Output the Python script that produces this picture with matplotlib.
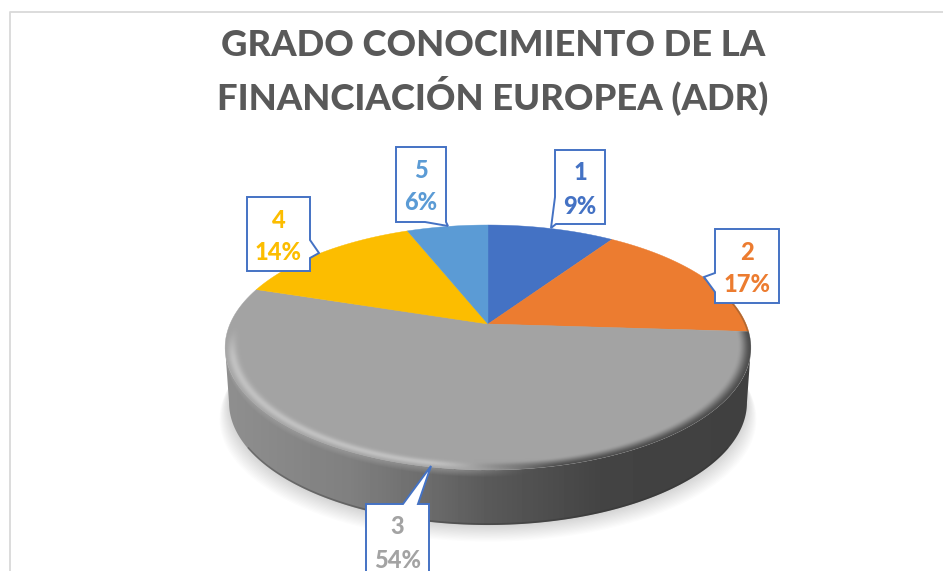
import numpy as np
import matplotlib
matplotlib.use("Agg")
import matplotlib.pyplot as plt
from matplotlib.patches import Polygon

labels = ["1", "2", "3", "4", "5"]
values = [9.4, 16.6, 54, 14, 6]
colors = ["#4472C4", "#EC7C30", "#A3A3A3", "#FCBD00", "#5B9BD5"]
title = "GRADO CONOCIMIENTO DE LA\nFINANCIACIÓN EUROPEA (ADR)"

# layout in pixels
CX, CY = 488, 324
RX, RY, PERSP = 258, 118, 0.192
DEPTH = 55
BLUE = "#4472C4"
side_x = [225, 350, 430, 488, 600, 750]
side_grey = [0.56, 0.50, 0.42, 0.35, 0.265, 0.25]


def project(theta, r=1.0):
    # disc to screen, the far side of the pie is squeezed a bit
    u = r * np.sin(theta)
    v = r * np.cos(theta)
    d = 1 + PERSP * v
    return CX + RX * u / d, CY - RY * v / d


def unproject(x, y):
    xp = (x - CX) / RX
    yp = (CY - y) / RY
    v = yp / (1 - PERSP * yp)
    d = 1 + PERSP * v
    u = xp * d
    return np.hypot(u, v), np.arctan2(u, v) % (2 * np.pi)


def smooth(a, b, x):
    t = np.clip((x - a) / (b - a), 0, 1)
    return t * t * (3 - 2 * t)


def bottom_rim(theta, grow=0.985, extra=0):
    x, y = project(theta)
    return CX + (x - CX) * grow, y + DEPTH + extra


fig = plt.figure(figsize=(9.43, 5.71), dpi=100)
ax = fig.add_axes([0, 0, 1, 1])
ax.axis("off")

# soft shadow under the pie
t_all = np.linspace(0, 2 * np.pi, 400)
for i in range(14):
    bx, by = bottom_rim(t_all, 0.985 + i * 0.0028, 1 + i * 1.2)
    ax.add_patch(Polygon(np.c_[bx, by], fc="k", ec="none", alpha=0.012, zorder=1))

# side wall with horizontal gradient, from widest point to widest point
t_widest = np.arccos(-PERSP)
t_front = np.linspace(t_widest, 2 * np.pi - t_widest, 300)
tx, ty = project(t_front)
bx, by = bottom_rim(t_front)
side = Polygon(np.r_[np.c_[tx, ty], np.c_[bx, by][::-1]], fc="none", ec="none")
ax.add_patch(side)
xs = np.arange(220, 756)
grad = np.interp(xs, side_x, side_grey)[None, :]
im = ax.imshow(grad, cmap="gray", vmin=0, vmax=1, aspect="auto",
               extent=(220, 756, 540, 300), zorder=2)
im.set_clip_path(side)

# darker line along the bottom edge of the wall
ax.plot(bx[40:260], by[40:260] - 1, color="#303030", lw=1.2, alpha=0.35, zorder=3)

# slices
total = sum(values)
edges = 2 * np.pi * np.cumsum([0] + values) / total
wedges = []
for a, b, c in zip(edges[:-1], edges[1:], colors):
    t = np.linspace(a, b, 120)
    x, y = project(t)
    pts = np.r_[[[CX, CY]], np.c_[x, y]]
    wedges.append(ax.add_patch(Polygon(pts, fc=c, ec=c, lw=0.3, zorder=4)))

# bevel on the rim of the big slice, light on the left, dark on the right
gx, gy = np.meshgrid(np.arange(220, 756, 0.5), np.arange(300, 540, 0.5))
rc, tc = unproject(gx, gy)
dark_part = 1 - smooth(-0.25, 0.2, -np.sin(tc))
fade_in = 1 - smooth(-0.3, 0.0, np.cos(tc))
w_light = np.exp(-((rc - 0.975) / 0.017) ** 2) * fade_in
w_dark = smooth(0.95, 1.0, rc)
light_c, dark_c = 0.76, 0.30
grey = (1 - dark_part) * light_c + dark_part * dark_c
alpha = (1 - dark_part) * w_light + dark_part * w_dark
rgba = np.dstack([grey, grey, grey, np.clip(alpha, 0, 1)])
bevel = ax.imshow(rgba, aspect="auto", extent=(220, 756, 540, 300), zorder=5)
bevel.set_clip_path(wedges[2])

# the light band runs a few pixels down the wall
rim_y = np.interp(gx, tx[::-1] if tx[0] > tx[-1] else tx, ty[::-1] if tx[0] > tx[-1] else ty)
k = gy - rim_y
band = np.clip(1 - k / 7, 0, 1) * (k >= 0) * 0.55
band = band * smooth(-0.2, 0.15, (CX - gx) / RX) * smooth(0.0, 0.25, (CX - gx) / RX + 1.0)
band_rgba = np.dstack([np.full_like(band, 0.66)] * 3 + [band])
wall_light = ax.imshow(band_rgba, aspect="auto", extent=(220, 756, 540, 300), zorder=3)
wall_light.set_clip_path(side)

# brown edge on the orange slice
t_o = np.linspace(edges[1] + 0.55, edges[2], 60)
ox, oy = project(t_o, 0.997)
ax.plot(ox, oy, color="#8a5a30", lw=1.2, alpha=0.6, zorder=5)

# callouts: box left, right, top, bottom and the tail points
callouts = [
    (555, 605, 150, 224, [(555, 197), (551, 228), (556, 224)]),
    (715, 779, 229, 303, [(715, 292), (704, 277), (715, 273)]),
    (366, 429, 504, 600, [(403, 504), (431, 466), (418, 504)]),
    (247, 310, 197, 271, [(310, 240), (319, 253), (310, 258)]),
    (396, 446, 147, 222, [(446, 222), (448, 226), (425, 222)]),
]
sides = ["left", "left", "top", "right", "bottom"]
for (l, r, t, b, tail), where in zip(callouts, sides):
    if where == "left":
        pts = [(l, t), (r, t), (r, b), (l, b), tail[0], tail[1], tail[2]]
        if tail[0][1] < tail[2][1]:
            pts = [(l, t), (r, t), (r, b), tail[2], tail[1], tail[0]]
    elif where == "right":
        pts = [(l, t), (r, t), tail[0], tail[1], tail[2], (r, b), (l, b)]
    elif where == "top":
        pts = [(l, t), tail[0], tail[1], tail[2], (r, t), (r, b), (l, b)]
    else:
        pts = [(l, t), (r, t), (r, b), tail[0], tail[1], tail[2], (l, b)]
    ax.add_patch(Polygon(pts, fc="white", ec=BLUE, lw=1.4, joinstyle="miter", zorder=6))

for (l, r, t, b, tail), lab, val, c in zip(callouts, labels, values, colors):
    xc = (l + r) / 2
    ytop = t + 23
    ax.text(xc, ytop, lab, color=c, fontsize=17, family="Lato", weight=900,
            ha="center", va="center", zorder=7)
    ax.text(xc, ytop + 33, f"{val:.0f}%", color=c, fontsize=17, family="Lato", weight=900,
            ha="center", va="center", zorder=7)

ax.text(493, 72, title, color="#595959", fontsize=26.2, family="Lato", weight=900,
        ha="center", va="center", linespacing=1.37, zorder=7)

# chart frame, only top and left are visible
ax.plot([10, 10, 943], [571, 12, 12], color="#D9D9D9", lw=1.3, zorder=0)

ax.set_xlim(0, 943)
ax.set_ylim(571, 0)
fig.savefig("out.png", dpi=100, facecolor="white")
